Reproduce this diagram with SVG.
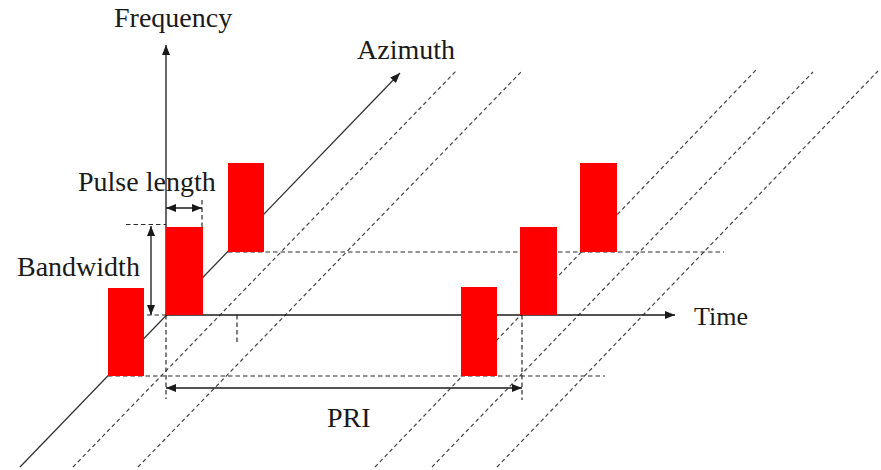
<svg xmlns="http://www.w3.org/2000/svg" width="881" height="470" viewBox="0 0 881 470">
<style>
.bg{fill:#ffffff}
.ax{stroke:#1a1a1a;stroke-width:1.3;fill:none}
.az{stroke:#333333;stroke-width:1.3;fill:none}
.dg{stroke:#444444;stroke-width:1.2;stroke-dasharray:4 3;fill:none}
.dh{stroke:#2a2a2a;stroke-width:1.2;stroke-dasharray:4.5 3;fill:none}
.pulse{fill:#ff0000}
.lbl{font-family:"Liberation Serif","Times New Roman",serif;font-size:28px;fill:#1a1a1a}
</style>
<defs>
<marker id="arr" viewBox="0 0 10 8" refX="10" refY="4" markerWidth="10" markerHeight="8" markerUnits="userSpaceOnUse" orient="auto-start-reverse">
<path d="M0,0 L10,4 L0,8 z" fill="#1a1a1a"/>
</marker>
</defs>
<rect class="bg" x="0" y="0" width="881" height="470"/>
<g id="connectors">
<line class="dg" x1="73" y1="467" x2="456" y2="71"/>
<line class="dg" x1="138" y1="467" x2="522" y2="71"/>
<line class="dg" x1="375" y1="467" x2="756" y2="70"/>
<line class="dg" x1="432" y1="467" x2="813" y2="72"/>
<line class="dg" x1="497" y1="467" x2="878" y2="71"/>
<line class="dh" x1="108" y1="376" x2="605" y2="376"/>
<line class="dh" x1="228" y1="252" x2="724" y2="252"/>
<line class="dh" x1="126" y1="224.5" x2="166" y2="224.5"/>
<line class="dh" x1="147" y1="315" x2="166" y2="315"/>
<line class="dh" x1="166" y1="315" x2="166" y2="399"/>
<line class="dh" x1="522" y1="315" x2="522" y2="400"/>
<line class="dh" x1="202" y1="200" x2="202" y2="227"/>
<line class="dh" x1="237" y1="315" x2="237" y2="342"/>
<line id="azimuth-axis" class="az" x1="20" y1="467" x2="400" y2="73" marker-end="url(#arr)"/>
<line id="frequency-axis" class="ax" x1="166" y1="315" x2="166" y2="45" marker-end="url(#arr)"/>
<line id="time-axis" class="ax" x1="166" y1="315" x2="675" y2="315" marker-end="url(#arr)"/>
<line id="pulse-length-arrow" class="ax" x1="166" y1="208" x2="202" y2="208" marker-start="url(#arr)" marker-end="url(#arr)"/>
<line id="bandwidth-arrow" class="ax" x1="151" y1="226" x2="151" y2="315" marker-start="url(#arr)" marker-end="url(#arr)"/>
<line id="pri-arrow" class="ax" x1="166" y1="388" x2="522" y2="388" marker-start="url(#arr)" marker-end="url(#arr)"/>
</g>
<g id="pulse1"><rect class="pulse" x="108" y="288" width="36" height="88"/></g>
<g id="pulse2"><rect class="pulse" x="166" y="227" width="37" height="88"/></g>
<g id="pulse3"><rect class="pulse" x="228" y="163" width="36" height="89"/></g>
<g id="pulse4"><rect class="pulse" x="461" y="287" width="36" height="89"/></g>
<g id="pulse5"><rect class="pulse" x="520" y="227" width="37" height="88"/></g>
<g id="pulse6"><rect class="pulse" x="580" y="163" width="37" height="89"/></g>
<g id="labels">
<text id="label-frequency" class="lbl" x="114" y="27">Frequency</text>
<text id="label-azimuth" class="lbl" x="357" y="59">Azimuth</text>
<text id="label-pulse-length" class="lbl" x="78" y="191">Pulse length</text>
<text id="label-bandwidth" class="lbl" x="17" y="276">Bandwidth</text>
<text id="label-time" class="lbl" x="694" y="325" style="font-size:26px">Time</text>
<text id="label-pri" class="lbl" x="327" y="427">PRI</text>
</g>
</svg>
